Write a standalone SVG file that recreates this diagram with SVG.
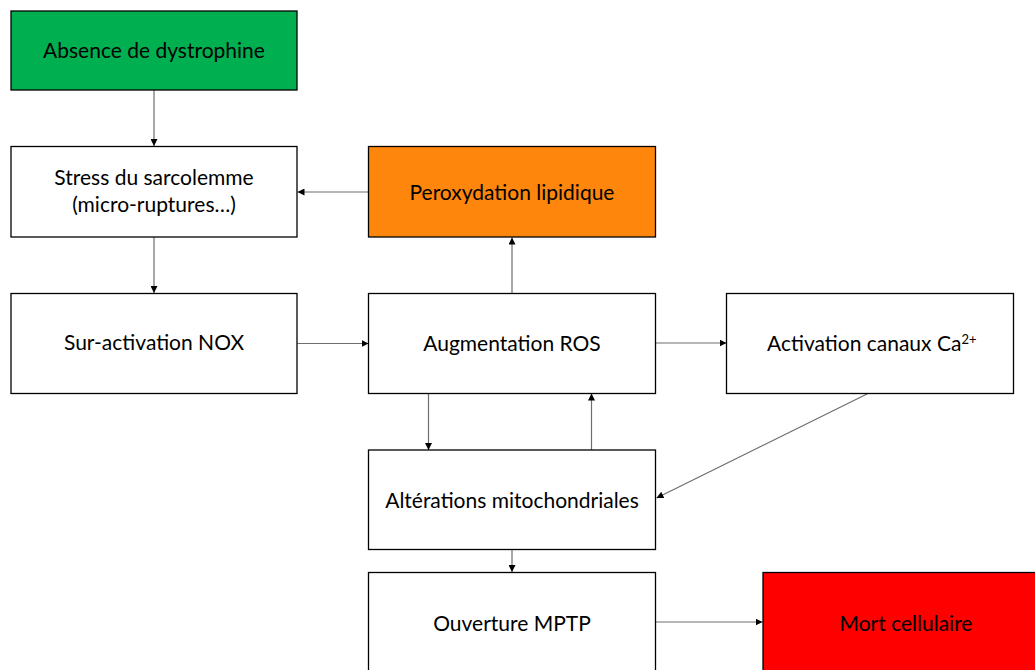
<svg xmlns="http://www.w3.org/2000/svg" width="1035" height="670" viewBox="0 0 1035 670">
<defs>
<style>
.box{stroke:#000;stroke-width:1.3}
.t{font-family:Lato,"Open Sans","Liberation Sans",sans-serif;font-size:21px;fill:#000;text-anchor:middle}
.c{stroke:#6e6e6e;stroke-width:1.2;fill:none;marker-end:url(#ah)}
</style>
<marker id="ah" viewBox="0 0 10 10" refX="10" refY="5" markerWidth="7" markerHeight="7" markerUnits="userSpaceOnUse" orient="auto">
<path d="M0,0 L10,5 L0,10 z" fill="#000"/>
</marker>
</defs>
<rect width="1035" height="670" fill="#fff"/>
<g id="connectors">
<line class="c" x1="154" y1="90" x2="154" y2="146"/>
<line class="c" x1="368.5" y1="192" x2="297.5" y2="192"/>
<line class="c" x1="154" y1="237" x2="154" y2="293"/>
<line class="c" x1="297.5" y1="343.5" x2="368.5" y2="343.5"/>
<line class="c" x1="512" y1="293" x2="512" y2="237.5"/>
<line class="c" x1="655.5" y1="343" x2="726.5" y2="343"/>
<line class="c" x1="428.5" y1="393.5" x2="428.5" y2="450"/>
<line class="c" x1="591.5" y1="450" x2="591.5" y2="393.5"/>
<line class="c" x1="868" y1="393.5" x2="656.5" y2="498"/>
<line class="c" x1="512" y1="549.5" x2="512" y2="572"/>
<line class="c" x1="655.5" y1="622" x2="762.5" y2="622"/>
</g>
<g id="n-absence">
<rect class="box" x="11" y="11" width="286" height="79" fill="#00b050"/>
<text class="t" x="154" y="58">Absence de dystrophine</text>
</g>
<g id="n-stress">
<rect class="box" x="11" y="146.5" width="286" height="90.5" fill="#fff"/>
<text class="t" x="154" y="185">Stress du sarcolemme</text>
<text class="t" x="154" y="212">(micro-ruptures…)</text>
</g>
<g id="n-peroxydation">
<rect class="box" x="368.5" y="146.5" width="287" height="90.5" fill="#ff860d"/>
<text class="t" x="512" y="200">Peroxydation lipidique</text>
</g>
<g id="n-nox">
<rect class="box" x="11" y="293.5" width="286" height="100" fill="#fff"/>
<text class="t" x="154" y="350">Sur-activation NOX</text>
</g>
<g id="n-ros">
<rect class="box" x="368.5" y="293.5" width="287" height="100" fill="#fff"/>
<text class="t" x="512" y="350.5">Augmentation ROS</text>
</g>
<g id="n-ca">
<rect class="box" x="726.5" y="293.5" width="287" height="100" fill="#fff"/>
<text class="t" x="767" y="350.5" style="text-anchor:start">Activation canaux Ca<tspan font-size="13" dy="-7">2+</tspan></text>
</g>
<g id="n-mito">
<rect class="box" x="368.5" y="450" width="287" height="99.5" fill="#fff"/>
<text class="t" x="512" y="508">Altérations mitochondriales</text>
</g>
<g id="n-mptp">
<rect class="box" x="368.5" y="572.5" width="287" height="100" fill="#fff"/>
<text class="t" x="512" y="630.5">Ouverture MPTP</text>
</g>
<g id="n-mort">
<rect class="box" x="763" y="572.5" width="287" height="100" fill="#ff0000"/>
<text class="t" x="906" y="630.5">Mort cellulaire</text>
</g>
</svg>
